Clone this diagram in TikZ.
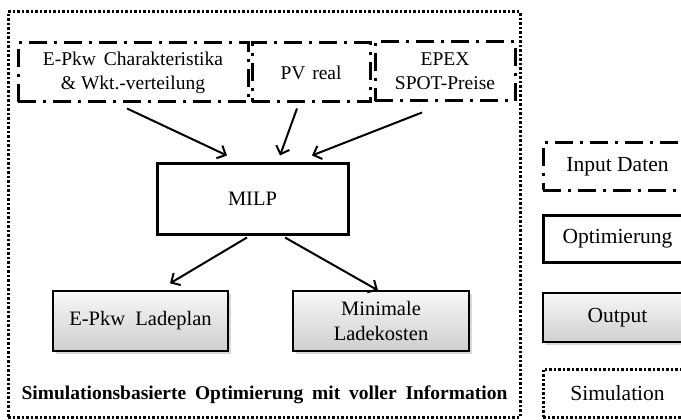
\documentclass[tikz,border=0pt]{standalone}
\usepackage{fontspec}
\setmainfont{Liberation Serif}
\usetikzlibrary{arrows.meta,shadows}
\begin{document}
\begin{tikzpicture}[x=1pt,y=1pt,
  txt/.style={font=\fontsize{19.5}{24}\selectfont, align=center, inner sep=0pt},
  inbox/.style={txt, draw, line width=3pt, dash pattern=on 18pt off 7pt on 3pt off 7pt, minimum height=59pt},
  simbox/.style={txt, draw, line width=3pt, dash pattern=on 2.5pt off 2pt},
  optbox/.style={txt, draw, line width=3pt},
  outbox/.style={txt, draw, line width=1.3pt, top color=gray!6, bottom color=gray!38,
     font=\fontsize{20.5}{25}\selectfont,
     drop shadow={shadow xshift=2.5pt, shadow yshift=-2.5pt, fill=gray!60, opacity=0.5}},
  legtxt/.style={font=\fontsize{21.5}{25}\selectfont},
  arr/.style={line width=2pt, -{Straight Barb[length=7pt,width=14pt,line width=2pt]}}
]
\useasboundingbox (0,0) rectangle (681,-420);
\node[simbox, minimum width=512pt, minimum height=405pt] (frame) at (264,-214.5) {};
\node[inbox, minimum width=230pt] (in1) at (133,-72.5) {E-Pkw\hspace{0.4em}Charakteristika\\\& Wkt.-verteilung};
\node[inbox, minimum width=118pt] (in2) at (311,-72.5) {PV\hspace{0.35em}real};
\node[inbox, minimum width=140pt] (in3) at (445,-71.5) {EPEX\\SPOT-Preise};
\node[optbox, minimum width=191pt, minimum height=71pt, font=\fontsize{20.5}{24}\selectfont] (milp) at (252.5,-198.5) {MILP};
\node[outbox, minimum width=175pt, minimum height=60pt] (out1) at (140.5,-321) {E-Pkw\hspace{0.5em}Ladeplan};
\node[outbox, minimum width=176pt, minimum height=60pt] (out2) at (381,-321) {Minimale\\Ladekosten};
\node[txt, font=\bfseries\fontsize{19.5}{24}\selectfont] (title) at (264.5,-395) {Simulationsbasierte\hspace{0.45em}Optimierung\hspace{0.45em}mit\hspace{0.45em}voller\hspace{0.45em}Information};
\draw[arr] ([xshift=-6pt,yshift=-5pt]in1.south) -- ([xshift=-25.5pt,yshift=6pt]milp.north);
\draw[arr] ([xshift=-14pt,yshift=-5pt]in2.south) -- ([xshift=27.5pt,yshift=6pt]milp.north);
\draw[arr] ([xshift=-23pt,yshift=-10pt]in3.south) -- ([xshift=59.5pt,yshift=6pt]milp.north);
\draw[arr] ([xshift=-5.5pt,yshift=-2pt]milp.south) -- ([xshift=29.5pt,yshift=7pt]out1.north);
\draw[arr] ([xshift=32.5pt,yshift=-2pt]milp.south) -- ([xshift=-3pt,yshift=0pt]out2.north);
% legend
\node[inbox, legtxt, minimum width=149pt, minimum height=47pt] (leg1) at (617.5,-166.5) {Input Daten};
\node[optbox, legtxt, minimum width=149pt, minimum height=47pt] (leg2) at (617.5,-238.5) {Optimierung};
\node[outbox, legtxt, minimum width=149pt, minimum height=49pt] (leg3) at (617.5,-317.5) {Output};
\node[simbox, legtxt, minimum width=149pt, minimum height=48pt] (leg4) at (617.5,-393) {Simulation};
\end{tikzpicture}
\end{document}
